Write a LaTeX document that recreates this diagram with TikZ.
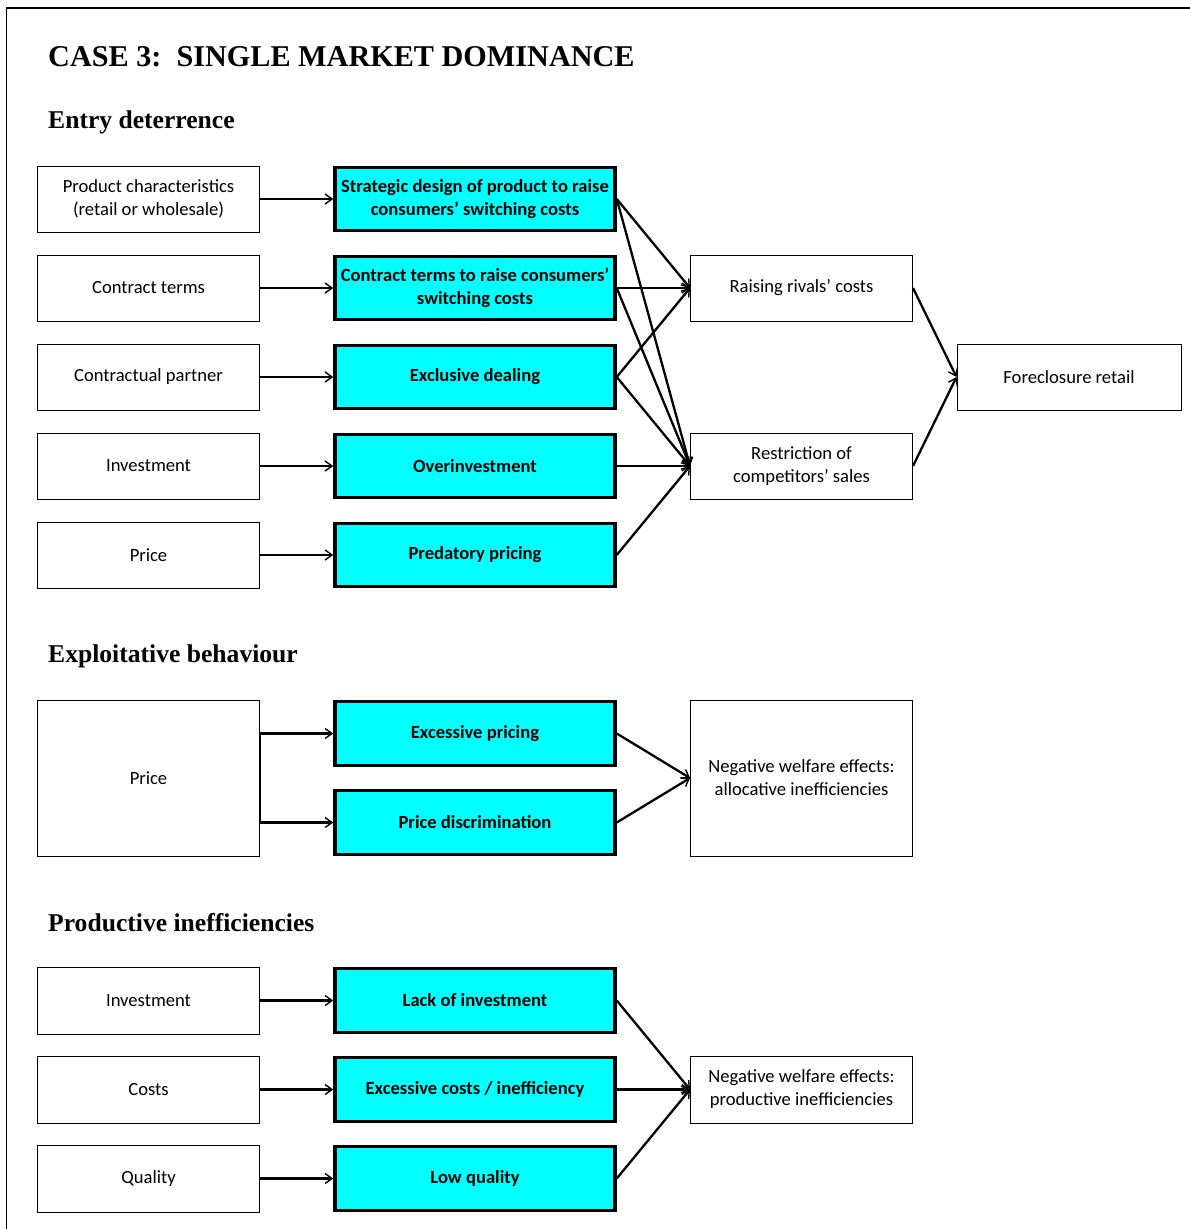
\documentclass[tikz,border=0pt]{standalone}
\usepackage{fontspec}
\setmainfont{Carlito}
\newfontfamily\headfont{Liberation Serif}
\usetikzlibrary{arrows.meta}
\definecolor{boxcyan}{HTML}{00FFFF}
\begin{document}
\begin{tikzpicture}[x=1pt,y=-1pt,
  plainbox/.style={draw=black,line width=1pt,minimum width=222pt,minimum height=66pt,inner sep=0pt,align=center,font=\fontsize{18.6}{23}\selectfont},
  keybox/.style={draw=black,fill=boxcyan,line width=3.5pt,minimum width=280pt,minimum height=63pt,inner sep=0pt,align=center,font=\fontsize{18.6}{23}\selectfont\bfseries},
  conn/.style={line width=2.3pt,-{Straight Barb[length=7pt,width=10pt,line width=1.4pt]}},
  heading/.style={anchor=west,inner sep=0pt,font=\headfont\bfseries\fontsize{25.6}{29}\selectfont},
  title/.style={anchor=west,inner sep=0pt,font=\headfont\bfseries\fontsize{30.2}{34}\selectfont}]
\useasboundingbox (0,0) rectangle (1190,1229);
\draw[line width=1.5pt] (6.5,1229) -- (6.5,8) -- (1190,8);

\node[title] (t) at (48,57) {CASE 3:\ \ SINGLE MARKET DOMINANCE};
\node[heading] (h1) at (48,122) {Entry deterrence};
\node[heading] (h2) at (48,656) {Exploitative behaviour};
\node[heading] (h3) at (48,923) {Productive inefficiencies};

% Section 1
\node[plainbox] (a1) at (148.5,199) {Product characteristics\\(retail or wholesale)};
\node[plainbox] (a2) at (148.5,288) {Contract terms};
\node[plainbox] (a3) at (148.5,377) {Contractual partner};
\node[plainbox] (a4) at (148.5,466) {Investment};
\node[plainbox] (a5) at (148.5,555) {Price};

\node[keybox] (b1) at (475,199) {Strategic design of product to raise\\consumers’ switching costs};
\node[keybox] (b2) at (475,288) {Contract terms to raise consumers’\\switching costs};
\node[keybox] (b3) at (475,377) {Exclusive dealing};
\node[keybox] (b4) at (475,466) {Overinvestment};
\node[keybox] (b5) at (475,555) {Predatory pricing};

\node[plainbox] (rrc) at (801.5,288) {Raising rivals’ costs};
\node[plainbox] (res) at (801.5,466) {Restriction of\\competitors’ sales};
\node[plainbox,minimum width=224pt] (fr) at (1069,377) {Foreclosure retail};

\foreach \i in {1,...,5} { \draw[conn] (a\i.east) -- (b\i.west); }
\foreach \i in {1,2,3} { \draw[conn] (b\i.east) -- (rrc.west); \draw[conn] (b\i.east) -- (res.west); }
\draw[conn] (b4.east) -- (res.west);
\draw[conn] (b5.east) -- (res.west);
\draw[conn] (rrc.east) -- (fr.west);
\draw[conn] (res.east) -- (fr.west);

% Section 2
\node[plainbox,minimum height=156pt] (p2) at (148.5,778) {Price};
\node[keybox,minimum height=64pt] (ex) at (475,733.5) {Excessive pricing};
\node[keybox,minimum height=64pt] (pd) at (475,822.5) {Price discrimination};
\node[plainbox,minimum height=156pt] (nw) at (801.5,778) {Negative welfare effects:\\allocative inefficiencies};
\draw[conn] (p2.east) |- (ex.west);
\draw[conn] (p2.east) |- (pd.west);
\draw[conn] (ex.east) -- (nw.west);
\draw[conn] (pd.east) -- (nw.west);

% Section 3
\node[plainbox,minimum height=67pt] (c1) at (148.5,1000.5) {Investment};
\node[plainbox,minimum height=67pt] (c2) at (148.5,1089.5) {Costs};
\node[plainbox,minimum height=67pt] (c3) at (148.5,1178.5) {Quality};
\node[keybox,minimum height=64pt] (d1) at (475,1000.5) {Lack of investment};
\node[keybox,minimum height=64pt] (d2) at (475,1089.5) {Excessive costs / inefficiency};
\node[keybox,minimum height=64pt] (d3) at (475,1178.5) {Low quality};
\node[plainbox,minimum height=67pt] (np) at (801.5,1089.5) {Negative welfare effects:\\productive inefficiencies};
\foreach \i in {1,2,3} { \draw[conn] (c\i.east) -- (d\i.west); \draw[conn] (d\i.east) -- (np.west); }
\end{tikzpicture}
\end{document}
